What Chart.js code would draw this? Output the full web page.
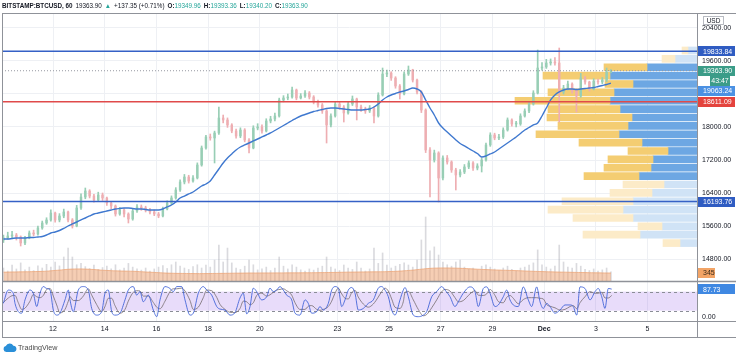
<!DOCTYPE html>
<html><head><meta charset="utf-8">
<script src="https://cdn.jsdelivr.net/npm/chart.js@4.4.1/dist/chart.umd.min.js"></script>
<style>
html,body{margin:0;padding:0;background:#fff;}
#wrap{position:relative;width:736px;height:356px;overflow:hidden;font-family:'Liberation Sans',Arial,sans-serif;}
canvas{position:absolute;left:0;top:0;}
#hdr{position:absolute;left:2px;top:1px;font-size:6.3px;line-height:10px;color:#131722;white-space:nowrap;}
#hdr b{font-weight:bold}
#hdr .g{color:#26a69a}
#hdr .s{margin-left:3px}
#logo{position:absolute;left:3px;top:341px;height:12px;display:flex;align-items:center;font-size:7.2px;color:#4a4a4a;}
</style></head>
<body><div id="wrap">
<canvas id="c" width="736" height="356"></canvas>
<div id="hdr"><b>BITSTAMP:BTCUSD, 60</b><span class="s">19363.90</span><span class="s g">▲</span><span class="s">+137.35 (+0.71%)</span><span class="s"><b>O:</b><span class="g">19349.96</span></span><span class="s"><b>H:</b><span class="g">19393.36</span></span><span class="s"><b>L:</b><span class="g">19340.20</span></span><span class="s"><b>C:</b><span class="g">19363.90</span></span></div>
<div id="logo"><svg width="14" height="9" viewBox="0 0 14 9"><path d="M3.3 9A3 3 0 0 1 2.8 3.1 4.3 4.3 0 0 1 10.4 2.7 3.2 3.2 0 0 1 11 9Z" fill="#2a8fd8"/></svg><span style="margin-left:1px">TradingView</span></div>
</div>
<script>
// ---------- axis ticks ----------
const tickDays = [12, 14, 16, 18, 20, 23, 25, 27, 29, 31, 33, 35];
const tickLabels = ['12', '14', '16', '18', '20', '23', '25', '27', '29', 'Dec', '3', '5'];
const priceTicks = [14800, 15600, 16400, 17200, 18000, 18800, 19600, 20400];
const hiddenPriceTicks = [18800];
const stochTicks = [0];

// ---------- 4h candles (Nov 10 02:00 onward) ----------
const opens = [15260,15309,15358,15382,15334,15188,15309,15431,15406,15552,
15673,15746,15915,15746,15843,15940,15746,15600,16037,16303,
16449,16327,16231,16352,16279,16158,16085,15891,15988,15891,
15770,15964,16061,16037,15988,15940,15891,15843,16012,16158,
16279,16473,16667,16788,16691,16764,17079,17491,17758,17734,
17855,18218,18170,18049,17903,17782,17927,17685,17491,17976,
18000,17903,18146,18194,18267,18655,18703,18727,18897,18703,
18752,18824,18727,18606,18533,18388,18049,18267,18558,18485,
18340,18558,18679,18485,18436,18388,18461,18267,18776,19285,
19309,19188,18994,18800,19285,19382,19139,18849,18412,17443,
17200,17370,16764,17249,17152,16958,16837,16909,17031,17128,
17006,17055,17200,17564,17806,17734,17758,17927,18170,18073,
18073,18267,18388,18558,18824,19430,19455,19552,19576,19552,
18849,18945,19042,18873,18752,19188,19091,18921,19115,19091,
19139,19333];
const highs = [15380,15450,15470,15420,15360,15350,15480,15500,15600,15720,
15800,15990,15940,15900,16010,15960,15780,16100,16380,16521,
16480,16370,16420,16400,16300,16200,16110,16050,16020,15920,
16010,16120,16110,16080,16030,15990,15930,16060,16210,16330,
16530,16720,16850,16830,16820,17130,17540,17800,17830,17900,
18485,18290,18220,18080,17950,17980,17960,17720,18030,18080,
18050,18200,18260,18340,18700,18760,18800,18970,18920,18810,
18880,18860,18760,18650,18570,18420,18320,18610,18600,18520,
18620,18752,18700,18530,18480,18520,18490,18830,19430,19380,
19340,19220,19030,19340,19479,19400,19160,18880,18440,17500,
17440,17400,17300,17310,17180,17000,16970,17090,17180,17160,
17110,17250,17610,17860,17850,17820,17980,18220,18200,18140,
18320,18440,18610,18880,19867,19560,19640,19650,19680,19915,
19010,19115,19070,18920,19300,19230,19110,19170,19160,19200,
19430,19393];
const lows = [15200,15280,15320,15260,15115,15150,15290,15360,15380,15520,
15640,15720,15690,15700,15800,15700,15550,15580,16000,16260,
16280,16180,16200,16220,16100,16020,15840,15860,15820,15673,
15740,15930,15980,15940,15890,15850,15800,15820,15990,16120,
16250,16440,16620,16640,16660,16740,17050,17460,17680,17128,
17820,18100,17990,17860,17730,17740,17640,17370,17470,17930,
17850,17880,18100,18150,18240,18610,18660,18700,18660,18680,
18720,18680,18560,18480,18330,17612,18000,18240,18430,18121,
18310,18520,18170,18380,18330,18350,18097,18240,18750,19220,
19130,18940,18679,18780,19250,19090,18800,18350,17380,16303,
17150,16182,16720,17100,16900,16473,16790,16870,16990,16950,
16960,16909,17170,17530,17690,17690,17720,17900,18020,18000,
18040,18240,18350,18530,18800,19380,19420,19500,19500,18121,
18800,18900,18820,18364,18720,19040,18870,18900,19040,19050,
19100,19320];
const closes = [15309,15358,15382,15334,15188,15309,15431,15406,15552,15673,
15746,15915,15746,15843,15940,15746,15600,16037,16303,16449,
16327,16231,16352,16279,16158,16085,15891,15988,15891,15770,
15964,16061,16037,15988,15940,15891,15843,16012,16158,16279,
16473,16667,16788,16691,16764,17079,17491,17758,17734,17855,
18218,18170,18049,17903,17782,17927,17685,17491,17976,18000,
17903,18146,18194,18267,18655,18703,18727,18897,18703,18752,
18824,18727,18606,18533,18388,18049,18267,18558,18485,18340,
18558,18679,18485,18436,18388,18461,18267,18776,19285,19309,
19188,18994,18800,19285,19382,19139,18849,18412,17443,17200,
17370,16764,17249,17152,16958,16837,16909,17031,17128,17006,
17055,17200,17564,17806,17734,17758,17927,18170,18073,18073,
18267,18388,18558,18824,19430,19455,19552,19576,19552,18849,
18945,19042,18873,18752,19188,19091,18921,19115,19091,19139,
19333,19364];
const maValues = [15285,15285,15297,15309,15309,15309,15322,15322,15334,15346,
15382,15431,15455,15491,15540,15600,15649,15697,15746,15794,
15843,15891,15915,15940,15964,15988,16012,16025,16037,16037,
16025,16012,16012,16000,15988,15988,15988,16012,16061,16109,
16182,16279,16327,16376,16424,16497,16570,16618,16691,16837,
16982,17128,17249,17346,17443,17515,17564,17612,17661,17709,
17758,17806,17855,17915,17976,18036,18097,18158,18218,18267,
18303,18340,18376,18400,18424,18449,18461,18461,18449,18436,
18424,18412,18412,18412,18424,18436,18485,18558,18655,18727,
18776,18812,18849,18873,18909,18945,18921,18849,18655,18461,
18291,18097,17976,17879,17782,17685,17600,17540,17479,17418,
17358,17273,17297,17346,17394,17467,17540,17612,17685,17758,
17843,17927,17988,18049,18097,18267,18461,18655,18776,18849,
18897,18921,18921,18909,18921,18933,18945,18958,18982,19006,
19030,19063];
const volumes = [560,430,690,520,780,480,600,450,650,560,
720,600,820,650,1035,1420,1035,700,760,620,
540,690,500,580,640,520,700,480,560,760,
600,520,470,560,430,520,600,660,540,700,
820,640,560,500,620,700,560,690,600,900,
1550,820,1420,780,560,500,640,905,700,480,
520,600,450,560,1035,640,520,700,600,480,
430,520,470,560,640,1035,600,520,450,690,
560,500,820,560,430,520,1420,760,1210,690,
560,640,720,780,690,600,900,1770,2760,1300,
1470,1120,820,700,640,820,905,600,520,560,
480,640,700,600,520,450,560,640,500,430,
560,600,690,780,1340,700,600,520,640,1550,
820,600,560,760,640,500,450,520,430,480,
560,390];
const volumeMA = [380,385,390,392,395,398,400,405,410,415,425,440,455,470,
490,505,515,520,520,515,505,495,480,
465,455,445,438,432,428,425,420,412,400,390,380,370,360,
350,340,335,330,328,325,322,320,318,318,320,322,325,328,330,333,335,338,340,
342,345,345,346,347,348,348,349,350,350,351,352,353,354,355,356,358,360,362,365,368,370,374,
378,382,385,388,390,392,394,396,398,400,404,410,418,428,
440,455,470,490,510,
530,545,555,560,562,562,560,555,548,540,530,
520,510,500,492,485,478,472,466,460,454,448,440,432,425,418,412,
405,400,395,390,386,382,378,374,370,366,362,358,355,352,349,347,345];

// ---------- Stoch RSI ----------
const stochTimes = [10.077,10.271,10.464,10.530,10.658,10.789,10.917,11.110,11.238,11.369,
11.497,11.625,11.756,11.884,12.012,12.143,12.271,12.464,12.592,12.657,
12.785,12.979,13.172,13.365,13.497,13.690,13.884,14.012,14.139,14.271,
14.398,14.592,14.785,14.913,15.106,15.238,15.365,15.493,15.687,15.880,
16.012,16.139,16.333,16.526,16.654,16.785,16.979,17.106,17.300,17.427,
17.621,17.814,17.946,18.139,18.333,18.460,18.654,18.847,19.040,19.234,
19.362,19.493,19.621,19.749,19.880,20.073,20.267,20.394,20.522,20.654,
20.781,20.909,21.040,21.234,21.362,21.555,21.748,21.876,22.008,22.201,
22.329,22.456,22.650,22.781,22.909,23.037,23.168,23.296,23.424,23.555,
23.683,23.810,24.004,24.197,24.391,24.584,24.715,24.843,24.971,25.102,
25.230,25.423,25.551,25.617,25.745,25.938,26.131,26.325,26.456,26.650,
26.843,27.037,27.164,27.358,27.551,27.679,27.872,28.131,28.325,28.453,
28.646,28.778,28.905,29.099,29.226,29.420,29.551,29.679,29.807,30.000,
30.193,30.387,30.518,30.712,30.840,30.967,31.099,31.226,31.420,31.613,
31.807,32.000,32.128,32.259,32.387,32.580,32.774,32.967,33.095,33.227,
33.354,33.482,33.613];
const stochK = [43,85,75,43,17,12,54,85,75,33,
75,96,90,85,22,6,12,54,85,54,
17,85,96,85,27,6,17,75,85,17,
6,12,54,85,96,69,80,48,69,22,
1,54,96,90,80,96,96,54,6,12,
75,96,85,69,33,25,22,6,14,60,
75,10,33,91,80,54,64,91,80,85,
96,85,69,54,12,6,54,43,12,17,
33,22,43,85,96,91,33,54,85,93,
75,22,27,43,54,91,96,85,64,22,
6,54,85,93,64,6,1,6,17,64,
80,96,85,64,33,48,75,95,80,33,
90,95,75,33,38,64,85,54,38,33,
95,54,33,95,48,27,43,33,12,22,
38,38,33,6,95,90,54,80,90,64,
27,90,88];
const stochD = [45,60,68,68,45,24,28,50,71,64,
61,68,87,90,66,38,13,24,50,64,
52,52,66,89,69,39,17,33,59,59,
36,12,24,50,78,83,82,66,66,46,
31,26,50,80,89,89,91,82,52,24,
31,61,85,83,62,40,24,15,14,27,
50,48,39,45,68,75,66,70,78,85,
87,89,83,69,45,24,24,34,36,24,
21,24,33,50,75,91,73,59,57,77,
84,63,41,31,41,63,80,91,82,57,
31,27,48,77,81,54,24,4,8,29,
54,80,87,82,61,48,52,73,83,69,
68,73,87,68,49,45,62,68,59,42,
55,61,61,61,59,57,39,34,29,22,
24,33,36,26,45,64,80,75,75,78,
60,60,68];
const stochBands = [20, 80];

// ---------- Volume profile (visible range) ----------
const vpRows = [19855,19652,19449,19246,19043,18840,18637,18434,18231,18028,17825,17622,17419,17216,17013,16810,16607,16404,16201,15998,15795,15592,15389,15186];
const vpUp = [9,22,50,87,64,83,87,77,65,69,78,55,29,44,46,58,33,45,64,74,64,35,57,17];
const vpDown = [6,13,43,67,28,66,95,72,85,70,83,63,40,45,47,55,41,42,71,75,60,24,57,17];
const valueAreaHigh = 19550, valueAreaLow = 16700;

// ---------- levels / last values ----------
const blueLevels = [19833.84, 16193.76];
const redLevels = [18611.09];
const lastPrice = 19363.90;
const lastMA = 19063.24;
const lastVolMA = 345;
const lastStochK = 87.73;
const countdown = '43:47';

// ---------- view ranges ----------
const xMin = 10.027, xMax = 36.913;
const priceMin = 14266.7, priceMax = 20763.6;
const stochMin = -12.6, stochMax = 113.6;
const volMin = -1725, volMax = 11557;
const vpMax = 695;

const candleStartDay = 10 + 2 / 24, candleStepDays = 4 / 24;
const candleTimes = closes.map((_, i) => candleStartDay + i * candleStepDays);

const UP = '#98ceb5', DOWN = '#eeaeb2';
const candleColors = closes.map((c, i) => c >= opens[i] ? UP : DOWN);
const FONT = "'Liberation Sans', Arial, sans-serif";
Chart.defaults.font.family = FONT;
Chart.defaults.font.size = 7;
Chart.defaults.color = '#131722';

function levelLine(v, color, width, dash, order) {
  return { type: 'line', data: [{ x: xMin, y: v }, { x: xMax, y: v }], borderColor: color, borderWidth: width,
    borderDash: dash, pointRadius: 0, xAxisID: 'x', yAxisID: 'y', order };
}

const datasets = [
  { type: 'bar', data: vpRows.map((p, i) => ({ y: p, x: [0, vpUp[i]] })), indexAxis: 'y', xAxisID: 'xP', yAxisID: 'y',
    backgroundColor: vpRows.map(p => p <= valueAreaHigh && p >= valueAreaLow ? '#6da7e3' : '#d0e3f6'),
    barThickness: 7, grouped: false, order: 12 },
  { type: 'bar', data: vpRows.map((p, i) => ({ y: p, x: [vpUp[i], vpUp[i] + vpDown[i]] })), indexAxis: 'y', xAxisID: 'xP', yAxisID: 'y',
    backgroundColor: vpRows.map(p => p <= valueAreaHigh && p >= valueAreaLow ? '#f4cd72' : '#fcebc8'),
    barThickness: 7, grouped: false, order: 11 },
  { type: 'bar', data: volumes.map((v, i) => ({ x: candleTimes[i], y: v })), xAxisID: 'x', yAxisID: 'yV',
    backgroundColor: 'rgba(150,150,160,0.35)', barThickness: 1, grouped: false, order: 10 },
  { type: 'line', data: volumeMA.map((v, i) => ({ x: candleTimes[i], y: v })), xAxisID: 'x', yAxisID: 'yV',
    borderColor: 'rgba(236,160,110,0.7)', borderWidth: 1, backgroundColor: 'rgba(238,165,118,0.55)', fill: 'origin',
    pointRadius: 0, tension: 0.3, order: 9 },
  { type: 'bar', data: closes.map((c, i) => ({ x: candleTimes[i], y: [lows[i], highs[i]] })), xAxisID: 'x', yAxisID: 'y',
    backgroundColor: candleColors, barThickness: 1, grouped: false, order: 6 },
  { type: 'bar', data: closes.map((c, i) => ({ x: candleTimes[i], y: [opens[i], c] })), xAxisID: 'x', yAxisID: 'y',
    backgroundColor: candleColors, barThickness: 1.8, minBarLength: 1, grouped: false, order: 5 },
  levelLine(lastPrice, '#9598a1', 1, [1, 2], 4),
  { type: 'line', data: maValues.map((v, i) => ({ x: candleTimes[i], y: v })), xAxisID: 'x', yAxisID: 'y',
    borderColor: '#3f78cf', borderWidth: 1.4, pointRadius: 0, tension: 0.35, cubicInterpolationMode: 'monotone', order: 3 },
  ...blueLevels.map(v => levelLine(v, '#3561c6', 1.5, [], 1)),
  ...redLevels.map(v => levelLine(v, '#e04a4a', 1.5, [], 1)),
  { type: 'line', data: stochD.map((v, i) => ({ x: stochTimes[i], y: v })), xAxisID: 'x', yAxisID: 'yS',
    borderColor: 'rgba(125,115,120,0.85)', borderWidth: 1, pointRadius: 0, cubicInterpolationMode: 'monotone', order: 2 },
  { type: 'line', data: stochK.map((v, i) => ({ x: stochTimes[i], y: v })), xAxisID: 'x', yAxisID: 'yS',
    borderColor: 'rgba(60,95,215,0.85)', borderWidth: 1, pointRadius: 0, cubicInterpolationMode: 'monotone', order: 1 },
];

function drawTag(ctx, y, text, bg, fg, x0, x1) {
  ctx.fillStyle = bg;
  ctx.fillRect(x0, Math.round(y - 5), x1 - x0, 10);
  ctx.fillStyle = fg;
  ctx.font = '7px ' + FONT;
  ctx.textBaseline = 'middle';
  ctx.textAlign = 'left';
  ctx.fillText(text, x0 + 5, y + 0.5);
}

const tvPlugin = {
  id: 'tv',
  beforeDatasetsDraw(chart) {
    const ctx = chart.ctx, a = chart.chartArea, yS = chart.scales.yS;
    const yTop = yS.getPixelForValue(stochBands[1]), yBot = yS.getPixelForValue(stochBands[0]);
    ctx.save();
    ctx.fillStyle = 'rgba(140,80,230,0.2)';
    ctx.fillRect(a.left, yTop, a.right - a.left, yBot - yTop);
    ctx.strokeStyle = '#8a8d96';
    ctx.lineWidth = 1;
    ctx.setLineDash([3, 3]);
    [yTop, yBot].forEach(yy => { ctx.beginPath(); ctx.moveTo(a.left, Math.round(yy) + 0.5); ctx.lineTo(a.right, Math.round(yy) + 0.5); ctx.stroke(); });
    ctx.restore();
  },
  afterDraw(chart) {
    const ctx = chart.ctx, a = chart.chartArea, s = chart.scales;
    const W = chart.width;
    ctx.save();
    ctx.strokeStyle = '#8f9299';
    ctx.lineWidth = 1;
    const hline = (y, x0, x1) => { ctx.beginPath(); ctx.moveTo(x0, y); ctx.lineTo(x1, y); ctx.stroke(); };
    const vline = (x, y0, y1) => { ctx.beginPath(); ctx.moveTo(x, y0); ctx.lineTo(x, y1); ctx.stroke(); };
    hline(a.top + 0.5, a.left, W);
    vline(a.left + 0.5, a.top, s.x.bottom);
    vline(a.right + 0.5, a.top, s.x.bottom);
    hline(s.x.bottom + 0.5, a.left, W);
    hline(Math.round(s.yS.bottom) + 0.5, a.left, W);
    ctx.lineWidth = 1.5;
    hline(Math.round(s.y.bottom) + 0.5, a.left, W);
    ctx.restore();

    // price-axis tags
    const y = s.y;
    const tags = [
      { py: y.getPixelForValue(blueLevels[0]), t: blueLevels[0].toFixed(2), bg: '#2f5cc2' },
      { py: y.getPixelForValue(lastPrice), t: lastPrice.toFixed(2), bg: '#3b9c88' },
      { py: y.getPixelForValue(lastPrice) + 10, t: countdown, bg: '#3b9c88', cd: true },
      { py: y.getPixelForValue(lastMA), t: lastMA.toFixed(2), bg: '#4b91e3' },
      { py: y.getPixelForValue(redLevels[0]), t: redLevels[0].toFixed(2), bg: '#e4433d' },
      { py: y.getPixelForValue(blueLevels[1]), t: blueLevels[1].toFixed(2), bg: '#2f5cc2' },
    ].sort((p, q) => p.py - q.py);
    for (let i = 1; i < tags.length; i++) tags[i].py = Math.max(tags[i].py, tags[i - 1].py + 10);
    ctx.save();
    tags.forEach(tg => {
      if (tg.cd) {
        ctx.fillStyle = '#3b9c88';
        ctx.fillRect(710, Math.round(tg.py - 5), 20, 10);
        ctx.fillStyle = '#fff'; ctx.font = '7px ' + FONT; ctx.textBaseline = 'middle'; ctx.textAlign = 'center';
        ctx.fillText(tg.t, 720, tg.py + 0.5);
      } else {
        drawTag(ctx, tg.py, tg.t, tg.bg, '#fff', a.right + 1, W - 1);
      }
    });
    drawTag(ctx, s.yV.getPixelForValue(lastVolMA), String(lastVolMA), '#f2a466', '#3a2a1a', a.right + 1, a.right + 18);
    drawTag(ctx, s.yS.getPixelForValue(lastStochK), lastStochK.toFixed(2), '#3f88e2', '#fff', a.right + 1, W - 1);
    // currency label
    ctx.strokeStyle = '#b8bbc2'; ctx.lineWidth = 1;
    ctx.strokeRect(703.5, 16.5, 20, 8);
    ctx.fillStyle = '#131722'; ctx.font = '6.5px ' + FONT; ctx.textAlign = 'center'; ctx.textBaseline = 'middle';
    ctx.fillText('USD', 713.5, 20.8);
    ctx.restore();
  }
};

new Chart(document.getElementById('c'), {
  data: { datasets },
  options: {
    responsive: false, animation: false, events: [],
    layout: { padding: { top: 13, left: 2, right: 0, bottom: 19 } },
    plugins: { legend: { display: false }, tooltip: { enabled: false } },
    scales: {
      x: {
        type: 'linear', position: 'bottom', min: xMin, max: xMax, offset: false,
        afterBuildTicks: sc => { sc.ticks = tickDays.map(v => ({ value: v })); },
        afterFit: sc => { sc.height = 16; },
        ticks: { autoSkip: false, maxRotation: 0, padding: 4, color: '#131722',
          font: c => ({ size: 7, weight: c.tick && tickLabels[tickDays.indexOf(c.tick.value)] === 'Dec' ? 'bold' : 'normal' }),
          callback: v => tickLabels[tickDays.indexOf(v)] },
        grid: { color: '#eef0f4', drawTicks: false, offset: false },
        border: { display: false }
      },
      xP: { type: 'linear', display: false, position: 'top', min: 0, max: vpMax, reverse: true, offset: false },
      y: {
        type: 'linear', position: 'right', stack: 'pane', stackWeight: 268, min: priceMin, max: priceMax, offset: false,
        afterBuildTicks: sc => { sc.ticks = priceTicks.map(v => ({ value: v })); },
        afterFit: sc => { sc.width = 39; },
        ticks: { padding: 5, autoSkip: false, color: '#131722', callback: v => hiddenPriceTicks.includes(v) ? '' : v.toFixed(2) },
        grid: { color: '#eef0f4', drawTicks: false, offset: false },
        border: { display: false }
      },
      yS: {
        type: 'linear', position: 'right', stack: 'pane', stackWeight: 40, min: stochMin, max: stochMax, offset: false,
        afterBuildTicks: sc => { sc.ticks = stochTicks.map(v => ({ value: v })); },
        afterFit: sc => { sc.width = 39; },
        ticks: { padding: 5, autoSkip: false, color: '#131722', callback: v => v.toFixed(2) },
        grid: { display: false, drawTicks: false },
        border: { display: false }
      },
      yV: { type: 'linear', display: false, position: 'left', min: volMin, max: volMax, offset: false }
    }
  },
  plugins: [tvPlugin]
});
</script>
</body></html>
